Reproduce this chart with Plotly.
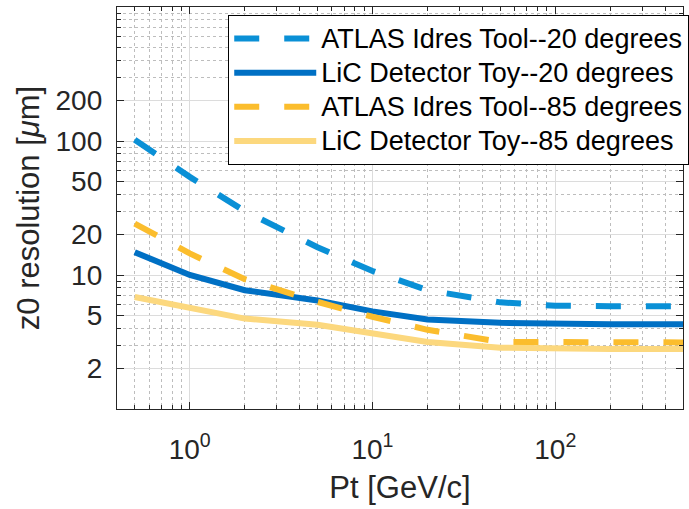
import plotly.graph_objects as go

pt = [0.5, 1, 2, 5, 10, 20, 50, 100, 200, 500]
atlas20 = [102, 54, 30, 16.1, 10.7, 7.7, 6.25, 5.9, 5.85, 5.85]
lic20 = [14.8, 10.0, 7.7, 6.45, 5.35, 4.65, 4.4, 4.3, 4.29, 4.29]
atlas85 = [24.2, 14.5, 9.3, 6.3, 4.88, 3.9, 3.17, 3.15, 3.14, 3.14]
lic85 = [6.85, 5.7, 4.73, 4.25, 3.65, 3.16, 2.87, 2.8, 2.8, 2.8]

names = ["ATLAS Idres Tool--20 degrees", "LiC Detector Toy--20 degrees",
         "ATLAS Idres Tool--85 degrees", "LiC Detector Toy--85 degrees"]
colors = ["#0A90D6", "#0070C4", "#FBBD2D", "#FCD87E"]
dashes = ["25px,25px", "solid", "25px,25px", "solid"]
series = [atlas20, lic20, atlas85, lic85]

x_major = [1, 10, 100]
x_major_text = ["10<sup>0</sup>", "10<sup>1</sup>", "10<sup>2</sup>"]
x_minor = [0.4, 0.5, 0.6, 0.7, 0.8, 0.9, 2, 3, 4, 5, 6, 7, 8, 9,
           20, 30, 40, 50, 60, 70, 80, 90, 200, 300, 400, 500]
y_major = [2, 5, 10, 20, 50, 100, 200]
y_minor = [3, 4, 6, 7, 8, 9, 30, 40, 60, 70, 80, 90,
           300, 400, 500, 600, 700, 800, 900]

FONT = "Liberation Sans, Arial, sans-serif"
AX = "#262626"

fig = go.Figure()
for n, c, d, s in zip(names, colors, dashes, series):
    fig.add_trace(go.Scatter(x=pt, y=s, mode="lines",
                             name='<span style="font-size:27px">' + n + '</span>',
                             line=dict(color=c, width=6, dash=d)))

common = dict(
    type="log", showline=True, linecolor=AX, linewidth=1.3, mirror="ticks",
    ticks="inside", ticklen=7, tickwidth=1.2, tickcolor=AX,
    showgrid=True, gridcolor="#DCDCDC", gridwidth=1,
    zeroline=False,
    tickfont=dict(family=FONT, size=28, color=AX),
)

fig.update_xaxes(
    **common, range=[-0.39794, 2.69897],
    tickmode="array", tickvals=x_major, ticktext=x_major_text,
    ticklabelstandoff=15,
    minor=dict(tickmode="array", tickvals=x_minor, ticks="inside", ticklen=4,
               tickcolor=AX, tickwidth=1, showgrid=True, gridcolor="#BDBDBD",
               griddash="dot", gridwidth=1),
    title=dict(text="Pt [GeV/c]", font=dict(family=FONT, size=31, color=AX), standoff=12),
)
fig.update_yaxes(
    **common, range=[0, 3],
    tickmode="array", tickvals=y_major, ticktext=[str(v) for v in y_major],
    ticklabelstandoff=8,
    minor=dict(tickmode="array", tickvals=y_minor, ticks="inside", ticklen=4,
               tickcolor=AX, tickwidth=1, showgrid=True, gridcolor="#BDBDBD",
               griddash="dot", gridwidth=1),
    title=dict(text="z0 resolution [<i>μ</i>m]", font=dict(family=FONT, size=31, color=AX), standoff=6),
)

fig.update_layout(
    width=689, height=509,
    margin=dict(l=117, r=6, t=7, b=100, autoexpand=False),
    plot_bgcolor="white", paper_bgcolor="white",
    showlegend=True,
    legend=dict(x=0.196, y=0.98, xanchor="left", yanchor="top",
                bgcolor="white", bordercolor="#000000", borderwidth=1.3,
                font=dict(family=FONT, size=24, color="#000000"),
                itemwidth=82, tracegroupgap=0),
)

fig.write_html("out.html")
